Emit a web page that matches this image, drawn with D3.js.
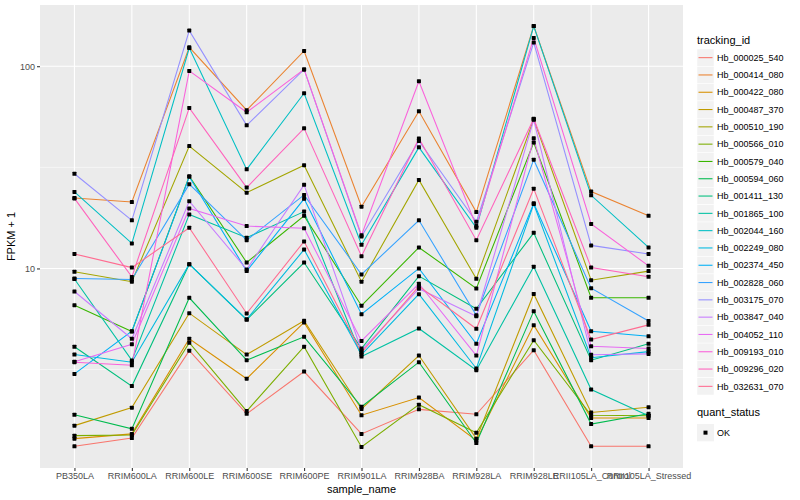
<!DOCTYPE html>
<html>
<head>
<meta charset="utf-8">
<script src="https://cdn.jsdelivr.net/npm/d3@7"></script>
<style>
body { margin: 0; background: #fff; }
text { font-family: "Liberation Sans", Arial, sans-serif; }
</style>
</head>
<body>
<script>
// sample names on the x axis
var samples = ["PB350LA", "RRIM600LA", "RRIM600LE", "RRIM600SE", "RRIM600PE", "RRIM901LA",
  "RRIM928BA", "RRIM928LA", "RRIM928LE", "RRII105LA_Control", "RRII105LA_Stressed"];

var trackingIds = ["Hb_000025_540", "Hb_000414_080", "Hb_000422_080", "Hb_000487_370", "Hb_000510_190",
  "Hb_000566_010", "Hb_000579_040", "Hb_000594_060", "Hb_001411_130", "Hb_001865_100",
  "Hb_002044_160", "Hb_002249_080", "Hb_002374_450", "Hb_002828_060", "Hb_003175_070",
  "Hb_003847_040", "Hb_004052_110", "Hb_009193_010", "Hb_009296_020", "Hb_032631_070"];

// FPKM + 1, one array per gene, in sample order
var hb000025_540 = [1.32, 1.45, 3.92, 1.91, 3.09, 1.52, 2.01, 1.90, 3.94, 1.32, 1.32];
var hb000414_080 = [22.3, 21.3, 124, 60.6, 119, 20.2, 59.9, 19.0, 158, 24.0, 18.2];
var hb000422_080 = [1.44, 1.52, 4.49, 2.85, 5.41, 1.88, 2.30, 1.41, 5.24, 1.82, 1.82];
var hb000487_370 = [1.67, 2.05, 6.01, 3.75, 5.51, 2.02, 3.71, 1.44, 7.48, 1.94, 2.06];
var hb000510_190 = [9.63, 8.60, 40.3, 23.7, 32.4, 8.60, 27.4, 8.89, 54.6, 8.75, 9.70];
var hb000566_010 = [1.49, 1.50, 4.29, 1.97, 4.10, 1.31, 2.12, 1.54, 4.42, 1.88, 1.87];
var hb000579_040 = [6.58, 4.88, 28.6, 10.7, 18.2, 6.54, 12.7, 7.96, 41.9, 7.16, 7.16];
var hb000594_060 = [1.89, 1.61, 7.16, 3.52, 4.59, 2.07, 3.44, 1.37, 6.15, 1.70, 1.91];
var hb001411_130 = [4.10, 2.62, 10.5, 5.57, 10.7, 4.02, 9.16, 6.32, 15.0, 3.52, 4.24];
var hb001865_100 = [8.87, 3.51, 18.5, 14.2, 19.1, 3.67, 5.05, 3.14, 10.2, 2.52, 1.87];
var hb002044_160 = [23.9, 13.3, 123, 30.9, 73.5, 13.1, 39.7, 15.9, 158, 23.0, 12.7];
var hb002249_080 = [3.75, 3.44, 10.5, 5.60, 12.4, 3.75, 7.46, 3.20, 20.8, 3.62, 3.88];
var hb002374_450 = [3.01, 4.89, 28.4, 9.70, 22.1, 5.94, 10.0, 4.24, 21.0, 4.89, 4.62];
var hb002828_060 = [8.92, 8.82, 26.1, 13.8, 23.1, 9.34, 17.3, 5.87, 34.5, 7.99, 5.50];
var hb003175_070 = [29.4, 17.3, 150, 51.0, 96.4, 14.4, 42.7, 17.0, 131, 13.0, 11.8];
var hb003847_040 = [7.69, 4.49, 21.5, 9.89, 25.9, 3.93, 7.94, 5.81, 54.3, 3.74, 3.78];
var hb004052_110 = [3.46, 4.22, 19.8, 16.2, 15.8, 4.38, 8.40, 3.71, 44.0, 4.12, 4.02];
var hb009193_010 = [3.44, 3.32, 94.8, 59.2, 96.4, 14.6, 84.3, 16.2, 138, 16.6, 10.3];
var hb009296_020 = [22.2, 9.08, 62.2, 25.1, 49.3, 11.5, 43.9, 13.8, 55.0, 10.1, 9.10];
var hb032631_070 = [11.8, 10.1, 15.9, 5.99, 13.6, 3.84, 8.17, 5.03, 24.8, 4.45, 5.26];

var yTicks = [10, 100];
var quantStatus = ["OK"];

var allValues = [hb000025_540, hb000414_080, hb000422_080, hb000487_370, hb000510_190,
  hb000566_010, hb000579_040, hb000594_060, hb001411_130, hb001865_100,
  hb002044_160, hb002249_080, hb002374_450, hb002828_060, hb003175_070,
  hb003847_040, hb004052_110, hb009193_010, hb009296_020, hb032631_070];

var palette = ["#F8766D", "#EA8331", "#D89000", "#C09B00", "#A3A500", "#7CAE00", "#39B600",
  "#00BB4E", "#00BF7D", "#00C1A3", "#00BFC4", "#00BAE0", "#00B0F6", "#35A2FF", "#9590FF",
  "#C77CFF", "#E76BF3", "#FA62DB", "#FF62BC", "#FF6C91"];

var series = trackingIds.map(function (id, i) {
  return { id: id, values: allValues[i].map(function (v, j) { return { sample: samples[j], value: v }; }) };
});

var width = 800;
var height = 500;
var svg = d3.select('body')
  .append("svg")
  .attr("width", width)
  .attr("height", height);

var panel = { left: 40, right: 683, top: 5, bottom: 468 };

var color = d3.scaleOrdinal().domain(trackingIds).range(palette);

var xScale = d3.scalePoint()
  .domain(samples)
  .range([panel.left, panel.right])
  .padding(0.6);

// ggplot-like 5% expansion in log space
var flat = d3.merge(allValues);
var lo = Math.log10(d3.min(flat)), hi = Math.log10(d3.max(flat));
var pad = (hi - lo) * 0.05;
var yScale = d3.scaleLog()
  .domain([Math.pow(10, lo - pad), Math.pow(10, hi + pad)])
  .range([panel.bottom, panel.top]);

svg.append("rect")
  .attr("x", panel.left).attr("y", panel.top)
  .attr("width", panel.right - panel.left).attr("height", panel.bottom - panel.top)
  .attr("fill", "#EBEBEB");

var grid = svg.append("g").attr("class", "grid");
// minor breaks halfway between majors (in log space)
var minor = [Math.pow(10, 0.5), Math.pow(10, 1.5), Math.pow(10, 2.5)].filter(function (d) {
  return d > yScale.domain()[0] && d < yScale.domain()[1];
});
grid.selectAll(".minor").data(minor).enter().append("line")
  .attr("x1", panel.left).attr("x2", panel.right)
  .attr("y1", function (d) { return yScale(d); }).attr("y2", function (d) { return yScale(d); })
  .attr("stroke", "#fff").attr("stroke-width", 0.55);
grid.selectAll(".major").data(yTicks).enter().append("line")
  .attr("x1", panel.left).attr("x2", panel.right)
  .attr("y1", function (d) { return yScale(d); }).attr("y2", function (d) { return yScale(d); })
  .attr("stroke", "#fff").attr("stroke-width", 1.1);
grid.selectAll(".xmajor").data(samples).enter().append("line")
  .attr("y1", panel.top).attr("y2", panel.bottom)
  .attr("x1", function (d) { return xScale(d); }).attr("x2", function (d) { return xScale(d); })
  .attr("stroke", "#fff").attr("stroke-width", 1.1);

var line = d3.line()
  .x(function (d) { return xScale(d.sample); })
  .y(function (d) { return yScale(d.value); });

svg.append("g").selectAll("path").data(series).enter().append("path")
  .attr("d", function (d) { return line(d.values); })
  .attr("fill", "none")
  .attr("stroke", function (d) { return color(d.id); })
  .attr("stroke-width", 1.07);

var pts = svg.append("g");
series.forEach(function (s) {
  pts.selectAll(null).data(s.values).enter().append("rect")
    .attr("x", function (d) { return xScale(d.sample) - 2; })
    .attr("y", function (d) { return yScale(d.value) - 2; })
    .attr("width", 4).attr("height", 4)
    .attr("rx", 0.6)
    .attr("fill", "#000");
});

// axes
var xAxis = d3.axisBottom(xScale).tickSize(3).tickPadding(2);
var xg = svg.append("g").attr("transform", "translate(0," + panel.bottom + ")").call(xAxis);
var yAxis = d3.axisLeft(yScale).tickValues(yTicks).tickFormat(d3.format("d")).tickSize(3).tickPadding(2);
var yg = svg.append("g").attr("transform", "translate(" + panel.left + ",0)").call(yAxis);
[xg, yg].forEach(function (g) {
  g.select(".domain").remove();
  g.selectAll(".tick line").attr("stroke", "#333").attr("stroke-width", 1.07);
  g.selectAll(".tick text").attr("fill", "#4D4D4D").style("font-size", "9px")
    .style("font-family", "'Liberation Sans', Arial, sans-serif");
});

svg.append("text")
  .attr("x", (panel.left + panel.right) / 2).attr("y", 493)
  .attr("text-anchor", "middle").style("font-size", "11px").attr("fill", "#000")
  .text("sample_name");
svg.append("text")
  .attr("transform", "translate(15," + ((panel.top + panel.bottom) / 2) + ") rotate(-90)")
  .attr("text-anchor", "middle").style("font-size", "11px").attr("fill", "#000")
  .text("FPKM + 1");

// legend
var legend = svg.append("g").attr("transform", "translate(697,0)");
legend.append("text").attr("x", 0).attr("y", 44).style("font-size", "11px").text("tracking_id");
var keyH = 17.3;
var items = legend.selectAll(".item").data(trackingIds).enter().append("g")
  .attr("transform", function (d, i) { return "translate(0," + (49 + i * keyH) + ")"; });
items.append("rect").attr("width", 17).attr("height", keyH)
  .attr("fill", "#F2F2F2").attr("stroke", "#fff").attr("stroke-width", 0.5);
items.append("line").attr("x1", 1.5).attr("x2", 15.5)
  .attr("y1", keyH / 2).attr("y2", keyH / 2)
  .attr("stroke", function (d) { return color(d); }).attr("stroke-width", 1.07);
items.append("text").attr("x", 20).attr("y", keyH / 2 + 3.2)
  .style("font-size", "9px").text(function (d) { return d; });

legend.append("text").attr("x", 0).attr("y", 416).style("font-size", "11px").text("quant_status");
var q = legend.selectAll(".q").data(quantStatus).enter().append("g")
  .attr("transform", "translate(0,424)");
q.append("rect").attr("width", 17).attr("height", keyH).attr("fill", "#F2F2F2");
q.append("rect").attr("x", 6.5).attr("y", keyH / 2 - 2).attr("width", 4).attr("height", 4).attr("fill", "#000");
q.append("text").attr("x", 20).attr("y", keyH / 2 + 3.2).style("font-size", "9px").text(function (d) { return d; });
</script>
</body>
</html>
